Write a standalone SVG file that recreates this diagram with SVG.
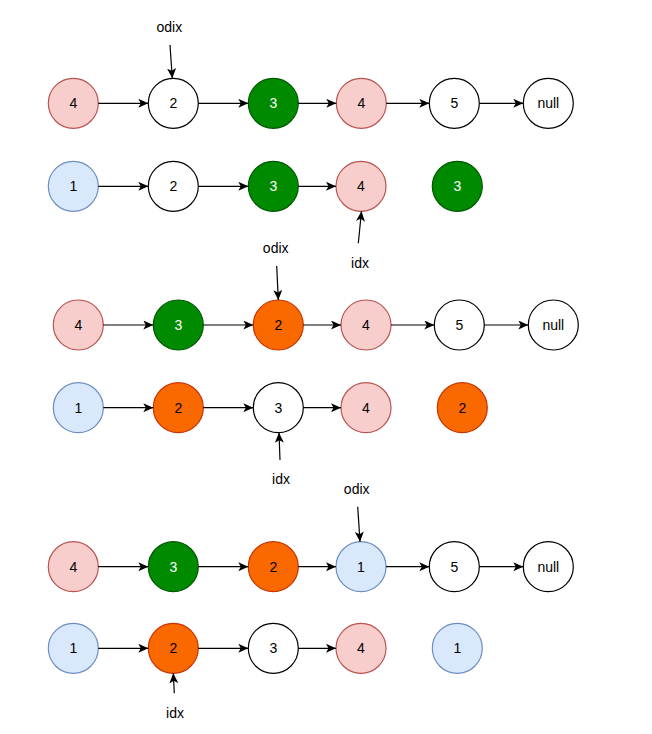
<svg xmlns="http://www.w3.org/2000/svg" width="652" height="734" viewBox="0 0 652 734">
<defs>
<marker id="ah" markerUnits="userSpaceOnUse" markerWidth="12" markerHeight="10" refX="10" refY="4.5" orient="auto">
<path d="M0,0 L10,4.5 L0,9 L2.5,4.5 Z" fill="#000"/>
</marker>
<style>
text{font-family:"Liberation Sans",Arial,sans-serif;font-size:14px;text-anchor:middle;fill:#000}
circle{stroke-width:1.2}
.w circle{fill:#fff;stroke:#000}
.p circle{fill:#f8cecc;stroke:#b85450}
.b circle{fill:#dae8fc;stroke:#6c8ebf}
.g circle{fill:#008a00;stroke:#005700}
.g text{fill:#fff}
.o circle{fill:#fa6800;stroke:#c73500}
#connectors line{stroke:#000;stroke-width:1.2;marker-end:url(#ah)}
</style>
</defs>
<rect width="652" height="734" fill="#fff"/>
<!-- row 1 -->
<g id="r1n1" class="p"><circle cx="73.3" cy="103.3" r="25"/><text x="73.3" y="108.3">4</text></g>
<g id="r1n2" class="w"><circle cx="173.3" cy="103.3" r="25"/><text x="173.3" y="108.3">2</text></g>
<g id="r1n3" class="g"><circle cx="273.3" cy="103.3" r="25"/><text x="273.3" y="108.3">3</text></g>
<g id="r1n4" class="p"><circle cx="361.3" cy="103.3" r="25"/><text x="361.3" y="108.3">4</text></g>
<g id="r1n5" class="w"><circle cx="454.3" cy="103.3" r="25"/><text x="454.3" y="108.3">5</text></g>
<g id="r1n6" class="w"><circle cx="548.3" cy="103.3" r="25"/><text x="548.3" y="108.3">null</text></g>
<!-- row 2 -->
<g id="r2n1" class="b"><circle cx="73.3" cy="186.3" r="25"/><text x="73.3" y="191.3">1</text></g>
<g id="r2n2" class="w"><circle cx="173.3" cy="186.3" r="25"/><text x="173.3" y="191.3">2</text></g>
<g id="r2n3" class="g"><circle cx="273.3" cy="186.3" r="25"/><text x="273.3" y="191.3">3</text></g>
<g id="r2n4" class="p"><circle cx="361" cy="186.3" r="25"/><text x="361" y="191.3">4</text></g>
<g id="r2n5" class="g"><circle cx="457.3" cy="186.3" r="25"/><text x="457.3" y="191.3">3</text></g>
<!-- row 3 -->
<g id="r3n1" class="p"><circle cx="78.3" cy="325" r="25"/><text x="78.3" y="330">4</text></g>
<g id="r3n2" class="g"><circle cx="178.3" cy="325" r="25"/><text x="178.3" y="330">3</text></g>
<g id="r3n3" class="o"><circle cx="278.3" cy="325" r="25"/><text x="278.3" y="330">2</text></g>
<g id="r3n4" class="p"><circle cx="366" cy="325" r="25"/><text x="366" y="330">4</text></g>
<g id="r3n5" class="w"><circle cx="459.3" cy="325" r="25"/><text x="459.3" y="330">5</text></g>
<g id="r3n6" class="w"><circle cx="553.3" cy="325" r="25"/><text x="553.3" y="330">null</text></g>
<!-- row 4 -->
<g id="r4n1" class="b"><circle cx="78.3" cy="407.7" r="25"/><text x="78.3" y="412.7">1</text></g>
<g id="r4n2" class="o"><circle cx="178.3" cy="407.7" r="25"/><text x="178.3" y="412.7">2</text></g>
<g id="r4n3" class="w"><circle cx="278.3" cy="407.7" r="25"/><text x="278.3" y="412.7">3</text></g>
<g id="r4n4" class="p"><circle cx="366" cy="407.7" r="25"/><text x="366" y="412.7">4</text></g>
<g id="r4n5" class="o"><circle cx="462.3" cy="407.7" r="25"/><text x="462.3" y="412.7">2</text></g>
<!-- row 5 -->
<g id="r5n1" class="p"><circle cx="73.3" cy="566.7" r="25"/><text x="73.3" y="571.7">4</text></g>
<g id="r5n2" class="g"><circle cx="173.3" cy="566.7" r="25"/><text x="173.3" y="571.7">3</text></g>
<g id="r5n3" class="o"><circle cx="273.3" cy="566.7" r="25"/><text x="273.3" y="571.7">2</text></g>
<g id="r5n4" class="b"><circle cx="361" cy="566.7" r="25"/><text x="361" y="571.7">1</text></g>
<g id="r5n5" class="w"><circle cx="454.3" cy="566.7" r="25"/><text x="454.3" y="571.7">5</text></g>
<g id="r5n6" class="w"><circle cx="548.3" cy="566.7" r="25"/><text x="548.3" y="571.7">null</text></g>
<!-- row 6 -->
<g id="r6n1" class="b"><circle cx="73.3" cy="648.3" r="25"/><text x="73.3" y="653.3">1</text></g>
<g id="r6n2" class="o"><circle cx="173.3" cy="648.3" r="25"/><text x="173.3" y="653.3">2</text></g>
<g id="r6n3" class="w"><circle cx="273.3" cy="648.3" r="25"/><text x="273.3" y="653.3">3</text></g>
<g id="r6n4" class="p"><circle cx="361" cy="648.3" r="25"/><text x="361" y="653.3">4</text></g>
<g id="r6n5" class="b"><circle cx="457.3" cy="648.3" r="25"/><text x="457.3" y="653.3">1</text></g>
<!-- labels -->
<g id="lbl-odix1"><text x="169.3" y="32.3">odix</text></g>
<g id="lbl-idx1"><text x="360" y="268.3">idx</text></g>
<g id="lbl-odix2"><text x="275.7" y="253.3">odix</text></g>
<g id="lbl-idx2"><text x="281" y="484.3">idx</text></g>
<g id="lbl-odix3"><text x="356.7" y="494">odix</text></g>
<g id="lbl-idx3"><text x="175" y="717.7">idx</text></g>
<g id="connectors">
<line x1="98.3" y1="103.3" x2="148.3" y2="103.3"/>
<line x1="198.3" y1="103.3" x2="248.3" y2="103.3"/>
<line x1="298.3" y1="103.3" x2="336.3" y2="103.3"/>
<line x1="386.3" y1="103.3" x2="429.3" y2="103.3"/>
<line x1="479.3" y1="103.3" x2="523.3" y2="103.3"/>
<line x1="98.3" y1="186.3" x2="148.3" y2="186.3"/>
<line x1="198.3" y1="186.3" x2="248.3" y2="186.3"/>
<line x1="298.3" y1="186.3" x2="336" y2="186.3"/>
<line x1="103.3" y1="325" x2="153.3" y2="325"/>
<line x1="203.3" y1="325" x2="253.3" y2="325"/>
<line x1="303.3" y1="325" x2="341" y2="325"/>
<line x1="391" y1="325" x2="434.3" y2="325"/>
<line x1="484.3" y1="325" x2="528.3" y2="325"/>
<line x1="103.3" y1="407.7" x2="153.3" y2="407.7"/>
<line x1="203.3" y1="407.7" x2="253.3" y2="407.7"/>
<line x1="303.3" y1="407.7" x2="341" y2="407.7"/>
<line x1="98.3" y1="566.7" x2="148.3" y2="566.7"/>
<line x1="198.3" y1="566.7" x2="248.3" y2="566.7"/>
<line x1="298.3" y1="566.7" x2="336" y2="566.7"/>
<line x1="386" y1="566.7" x2="429.3" y2="566.7"/>
<line x1="479.3" y1="566.7" x2="523.3" y2="566.7"/>
<line x1="98.3" y1="648.3" x2="148.3" y2="648.3"/>
<line x1="198.3" y1="648.3" x2="248.3" y2="648.3"/>
<line x1="298.3" y1="648.3" x2="336" y2="648.3"/>
<line x1="170" y1="45" x2="172.3" y2="78.3"/>
<line x1="358.3" y1="243.3" x2="361.5" y2="211.3"/>
<line x1="276.7" y1="266" x2="278.3" y2="300"/>
<line x1="280" y1="460" x2="279" y2="432.7"/>
<line x1="357.7" y1="506.7" x2="360" y2="541.7"/>
<line x1="174.3" y1="693.3" x2="173.3" y2="673.3"/>
</g>
</svg>
